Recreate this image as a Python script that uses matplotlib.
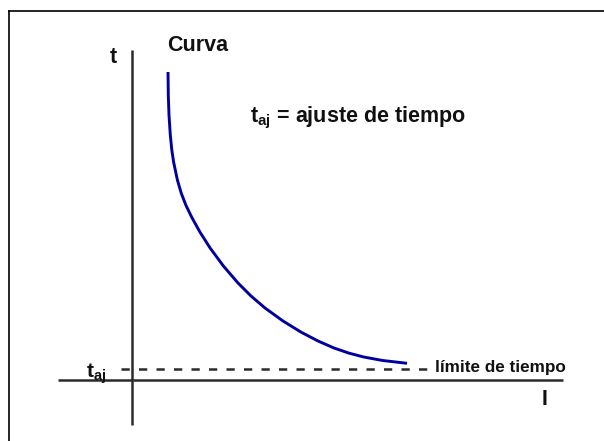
import matplotlib
matplotlib.use("Agg")
import matplotlib.pyplot as plt
from matplotlib.lines import Line2D

plt.rcParams['font.family'] = ['Liberation Sans', 'DejaVu Sans']
plt.rcParams['mathtext.fontset'] = 'custom'
plt.rcParams['mathtext.rm'] = 'Liberation Sans'
plt.rcParams['mathtext.bf'] = 'Liberation Sans:bold'

# Curve data (I, t)
curve_I = [0.720, 0.726, 0.740, 0.766, 0.796, 0.832, 0.908, 0.984, 1.076, 1.192,
           1.358, 1.562, 1.828, 2.120, 2.380, 2.660, 3.020, 3.376, 3.720, 4.040,
           4.330, 4.634, 5.014, 5.500]
curve_t = [6.160, 5.700, 5.300, 4.900, 4.600, 4.360, 4.000, 3.740, 3.500, 3.260,
           2.960, 2.640, 2.280, 1.940, 1.680, 1.440, 1.180, 0.960, 0.780, 0.640,
           0.540, 0.460, 0.390, 0.334]

# Time limit level
t_aj = 0.22
t_aj_I_range = [-0.22, 6.02]

# Axis extents
I_axis_range = [-1.48, 8.62]
t_axis_range = [-0.90, 6.60]

labels = {
    "t_axis": "t",
    "I_axis": "I",
    "curve": "Curva",
    "legend": r"$\mathbf{t}_{\mathbf{aj}}$ = ajuste de tiempo",
    "taj": r"$\mathbf{t}_{\mathbf{aj}}$",
    "limit": "límite de tiempo",
}

fig = plt.figure(figsize=(6.04, 4.41), dpi=100)
ax = fig.add_axes([0, 0, 1, 1])
ax.set_xlim(-2.64, 9.44)
ax.set_ylim(-1.22, 7.60)
ax.axis('off')

axis_col = '#2b2b2b'
ax.plot(I_axis_range, [0, 0], color=axis_col, lw=1.8, solid_capstyle='butt')
ax.plot([0, 0], t_axis_range, color=axis_col, lw=1.8, solid_capstyle='butt')
ax.plot(t_aj_I_range, [t_aj, t_aj], color=axis_col, lw=1.8, dashes=(3.3, 3.7),
        dash_capstyle='butt')
ax.plot(curve_I, curve_t, color='#0000a0', lw=2.1, solid_joinstyle='round',
        solid_capstyle='butt')

tc = '#111111'
ax.text(-0.38, 6.46, labels["t_axis"], fontsize=15.5, fontweight='bold', ha='center',
        va='center', color=tc)
ax.text(0.70, 6.70, labels["curve"], fontsize=15.5, fontweight='bold', ha='left',
        va='center', color=tc)
ax.text(2.36, 5.16, labels["legend"], fontsize=15.5, fontweight='bold', ha='left',
        va='baseline', color=tc)
ax.text(-0.92, 0.06, labels["taj"], fontsize=15, fontweight='bold', ha='left',
        va='baseline', color=tc)
ax.text(6.06, 0.16, labels["limit"], fontsize=12.3, fontweight='bold', ha='left',
        va='baseline', color=tc)
ax.text(8.20, -0.50, labels["I_axis"], fontsize=15.5, fontweight='bold', ha='left',
        va='baseline', color=tc)

# Frame (left and top edges)
W, H = 604, 441
fig.add_artist(Line2D([8.5 / W, 8.5 / W], [0, 1 - 10.5 / H], color='black', lw=1.2,
                      transform=fig.transFigure))
fig.add_artist(Line2D([8.5 / W, 1], [1 - 10.5 / H, 1 - 10.5 / H], color='black', lw=1.2,
                      transform=fig.transFigure))

fig.savefig('out.png', dpi=100, facecolor='white')
